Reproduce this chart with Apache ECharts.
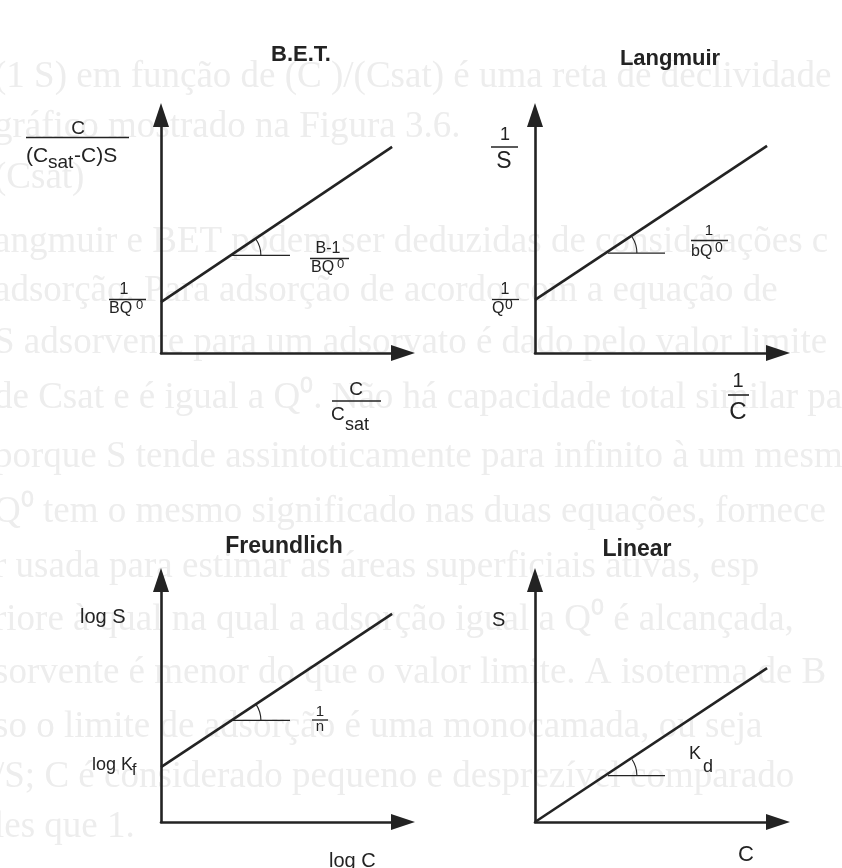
<!DOCTYPE html>
<html>
<head>
<meta charset="utf-8">
<script src="https://cdn.jsdelivr.net/npm/echarts@6/dist/echarts.min.js"></script>
<style>
  html, body { margin: 0; background: #fff; }
  #main { width: 842px; height: 868px; }
</style>
</head>
<body>
<div id="main"></div>
<script>
// schematic isotherm plots (axis units 0..10)
const panelTitles = ['B.E.T.', 'Langmuir', 'Freundlich', 'Linear'];

const betLine = [[0, 2.14], [9.55, 8.66]];
const langmuirLine = [[0, 2.23], [9.55, 8.7]];
const freundlichLine = [[0, 2.27], [9.55, 8.6]];
const linearLine = [[0, 0], [9.55, 6.36]];

// short horizontal reference segments where the slope angle is marked
const betSlope = [[2.93, 4.1], [5.33, 4.1]];
const langmuirSlope = [[3.0, 4.2], [5.35, 4.2]];
const freundlichSlope = [[2.93, 4.2], [5.33, 4.2]];
const linearSlope = [[3.0, 1.92], [5.35, 1.92]];

// faded text from the other side of the scanned page
const bleedLines = [
  [77, '(1 S) em função de (C )/(Csat) é uma reta de declividade ('],
  [127, 'gráfico mostrado na Figura 3.6.'],
  [178, '(Csat)'],
  [242, 'angmuir e BET podem ser deduzidas de considerações c'],
  [291, 'adsorção. Para adsorção de acordo com a equação de'],
  [343, 'S adsorvente para um adsorvato é dado pelo valor limite'],
  [398, 'de Csat e é igual a Q⁰. Não há capacidade total similar pa'],
  [457, 'porque S tende assintoticamente para infinito à um mesmo'],
  [512, 'Q⁰ tem o mesmo significado nas duas equações, fornece'],
  [567, 'r usada para estimar as áreas superficiais ativas, esp'],
  [620, 'riore à qual na qual a adsorção igual a Q⁰ é alcançada,'],
  [673, 'sorvente é menor do que o valor limite. A isoterma de B'],
  [727, 'so o limite de adsorção é uma monocamada, ou seja'],
  [777, '/S; C é considerado pequeno e desprezível comparado'],
  [827, 'les que 1.']
];

const ink = '#232323';
const chart = echarts.init(document.getElementById('main'));

function axis(i) {
  return {
    type: 'value', gridIndex: i, min: 0, max: 10,
    axisLine: {
      show: true, onZero: false,
      symbol: ['none', 'triangle'], symbolSize: [16, 24],
      lineStyle: { color: ink, width: 2.6 }
    },
    axisTick: { show: false },
    axisLabel: { show: false },
    splitLine: { show: false }
  };
}

function fitSeries(i, data) {
  return {
    type: 'line', xAxisIndex: i, yAxisIndex: i, data: data,
    symbol: 'none', silent: true,
    lineStyle: { color: ink, width: 2.6 }
  };
}

function slopeSeries(i, data) {
  return {
    type: 'line', xAxisIndex: i, yAxisIndex: i, data: data,
    symbol: 'none', silent: true,
    lineStyle: { color: ink, width: 1.2 }
  };
}

function arcSeries(i, mark, line) {
  return {
    type: 'custom', xAxisIndex: i, yAxisIndex: i, silent: true,
    data: [mark[0]],
    renderItem: function (params, api) {
      const c = api.coord([api.value(0), api.value(1)]);
      const p0 = api.coord(line[0]);
      const p1 = api.coord(line[1]);
      const ang = Math.atan2(p1[1] - p0[1], p1[0] - p0[0]);
      return {
        type: 'arc',
        shape: { cx: c[0], cy: c[1], r: 29, startAngle: ang, endAngle: 0, clockwise: true },
        style: { stroke: ink, fill: 'none', lineWidth: 1.1 }
      };
    }
  };
}

function txt(x, y, s, size, opt) {
  opt = opt || {};
  return {
    type: 'text', x: x, y: y, z: 10,
    style: {
      text: s, fill: ink,
      font: (opt.bold ? 'bold ' : '') + size + 'px "Liberation Sans", Arial, sans-serif',
      textAlign: opt.align || 'left', textVerticalAlign: 'middle'
    }
  };
}

function bar(x1, x2, y, w) {
  return {
    type: 'line', z: 10,
    shape: { x1: x1, y1: y, x2: x2, y2: y },
    style: { stroke: ink, lineWidth: w || 1.3 }
  };
}

const labels = [
  // titles
  txt(301, 55, panelTitles[0], 22, { bold: true, align: 'center' }),
  txt(670, 59, panelTitles[1], 22, { bold: true, align: 'center' }),
  txt(284, 547, panelTitles[2], 23, { bold: true, align: 'center' }),
  txt(637, 550, panelTitles[3], 23, { bold: true, align: 'center' }),

  // B.E.T.
  txt(78, 129, 'C', 19, { align: 'center' }),
  bar(26, 129, 137.5, 1.5),
  txt(26, 156, '(C', 21),
  txt(48, 163, 'sat', 19),
  txt(74, 156, '-C)S', 21),
  txt(124, 290, '1', 16, { align: 'center' }),
  bar(109, 146, 299.5),
  txt(109, 309, 'BQ', 16),
  txt(136, 305, '0', 13),
  txt(328, 249, 'B-1', 16, { align: 'center' }),
  bar(310, 349, 258.5),
  txt(311, 268, 'BQ', 16),
  txt(337, 264, '0', 13),
  txt(356, 390, 'C', 19, { align: 'center' }),
  bar(332, 381, 401, 1.5),
  txt(331, 415, 'C', 19),
  txt(345, 425, 'sat', 18),

  // Langmuir
  txt(505, 135, '1', 18, { align: 'center' }),
  bar(491, 518, 147, 1.5),
  txt(504, 162, 'S', 23, { align: 'center' }),
  txt(505, 290, '1', 16, { align: 'center' }),
  bar(492, 519, 299.5),
  txt(492, 309, 'Q', 16),
  txt(505, 305, '0', 14),
  txt(709, 231, '1', 15, { align: 'center' }),
  bar(691, 728, 240.5),
  txt(691, 252, 'bQ', 16),
  txt(715, 248, '0', 14),
  txt(738, 381, '1', 20, { align: 'center' }),
  bar(728, 749, 395, 1.6),
  txt(738, 412, 'C', 24, { align: 'center' }),

  // Freundlich
  txt(80, 617, 'log S', 20),
  txt(92, 765, 'log K', 18),
  txt(132, 771, 'f', 16),
  txt(320, 712, '1', 15, { align: 'center' }),
  bar(312, 328, 720),
  txt(320, 727, 'n', 15, { align: 'center' }),
  txt(329, 861, 'log C', 20),

  // Linear
  txt(492, 620, 'S', 20),
  txt(689, 754, 'K', 18),
  txt(703, 767, 'd', 18),
  txt(746, 855, 'C', 22, { align: 'center' })
];

const bleed = bleedLines.map(function (l) {
  return {
    type: 'text', x: -6, y: l[0], z: 0, silent: true,
    style: {
      text: l[1], fill: '#ededed',
      font: '37px "Liberation Serif", "Times New Roman", serif',
      textVerticalAlign: 'middle'
    }
  };
});

const option = {
  backgroundColor: '#ffffff',
  animation: false,
  grid: [
    { left: 161, top: 115, width: 242, height: 238 },
    { left: 535, top: 115, width: 243, height: 238 },
    { left: 161, top: 580, width: 242, height: 242 },
    { left: 535, top: 580, width: 243, height: 242 }
  ],
  xAxis: [axis(0), axis(1), axis(2), axis(3)],
  yAxis: [axis(0), axis(1), axis(2), axis(3)],
  series: [
    fitSeries(0, betLine), slopeSeries(0, betSlope), arcSeries(0, betSlope, betLine),
    fitSeries(1, langmuirLine), slopeSeries(1, langmuirSlope), arcSeries(1, langmuirSlope, langmuirLine),
    fitSeries(2, freundlichLine), slopeSeries(2, freundlichSlope), arcSeries(2, freundlichSlope, freundlichLine),
    fitSeries(3, linearLine), slopeSeries(3, linearSlope), arcSeries(3, linearSlope, linearLine)
  ],
  graphic: bleed.concat(labels)
};

chart.setOption(option);
</script>
</body>
</html>
